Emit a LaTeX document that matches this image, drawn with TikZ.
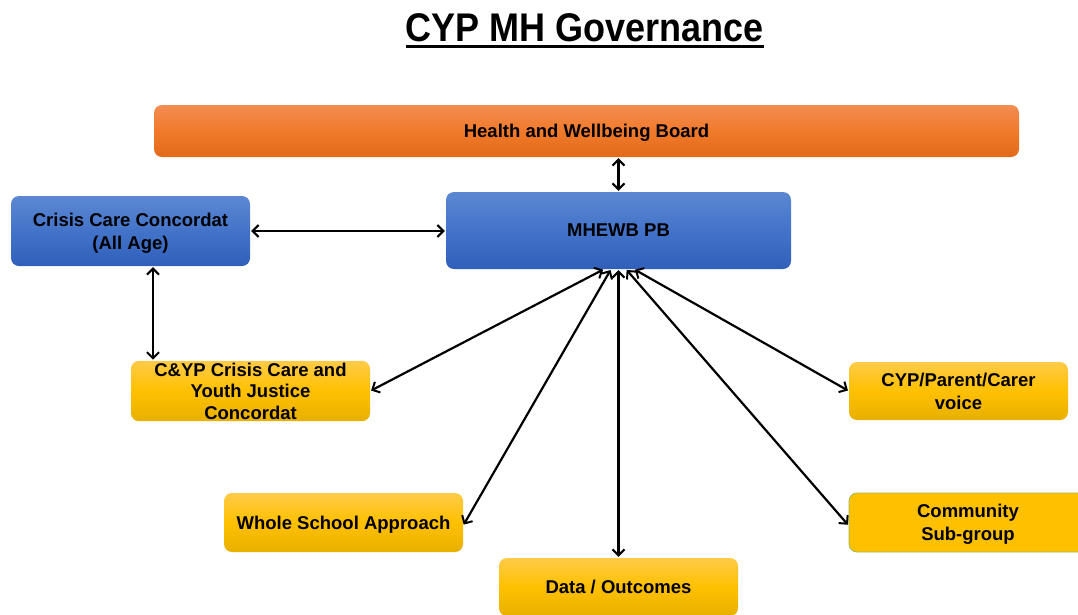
\documentclass[tikz,border=0pt]{standalone}
\usepackage{fontspec}
\setmainfont{Liberation Sans}
\newfontfamily\titlefont[FakeStretch=0.9]{Liberation Sans}
\usetikzlibrary{arrows.meta}

\definecolor{orgTop}{HTML}{F38D52}
\definecolor{orgMid}{HTML}{F07A2B}
\definecolor{orgBot}{HTML}{E4691A}
\definecolor{bluTop}{HTML}{5C88D2}
\definecolor{bluMid}{HTML}{4373C9}
\definecolor{bluBot}{HTML}{2F5FB9}
\definecolor{ylwTop}{HTML}{FFCB48}
\definecolor{ylwMid}{HTML}{FFC000}
\definecolor{ylwBot}{HTML}{E7B000}
\definecolor{ylwFlat}{HTML}{FFC000}
\definecolor{grnEdge}{HTML}{9BBB59}

\tikzset{
  box/.style={rounded corners=8pt, inner sep=2pt, align=center, text depth=0pt,
    font=\bfseries\fontsize{18.5}{23}\selectfont},
  orangebox/.style={box, top color=orgTop, bottom color=orgBot, middle color=orgMid},
  bluebox/.style={box, top color=bluTop, bottom color=bluBot, middle color=bluMid},
  yellowbox/.style={box, top color=ylwTop, bottom color=ylwBot, middle color=ylwMid},
  flatbox/.style={box, fill=ylwFlat, draw=grnEdge, line width=0.8pt},
  barb/.tip={Straight Barb[length=6pt,width=12pt,line width=2pt]},
  link/.style={line width=2.2pt, shorten >=1pt, shorten <=1pt, barb-barb}
}

\begin{document}
\begin{tikzpicture}[x=1pt,y=-1pt]
\useasboundingbox (0,0) rectangle (1078,614);
\clip (0,0) rectangle (1078,614);
\fill[white] (0,0) rectangle (1078,614);

% title
\node[inner sep=0pt, anchor=base, font=\titlefont\bfseries\fontsize{40}{44}\selectfont]
  (title) at (585,41) {CYP MH Governance};
\draw[line width=3pt] ([yshift=-5pt]title.base west) -- ([yshift=-5pt]title.base east);

% boxes
\node[orangebox, minimum width=865pt, minimum height=52pt] (hwb) at (586.5,131) {Health and Wellbeing Board};
\node[bluebox, minimum width=345pt, minimum height=77pt] (mh) at (618.5,230.5) {MHEWB PB};
\node[bluebox, minimum width=239pt, minimum height=70pt] (ccc) at (130.5,231) {Crisis Care Concordat\\(All Age)};
\node[yellowbox, minimum width=239pt, minimum height=58pt] (cyj) at (250.5,391) {C\&YP Crisis Care and\\[-1.5pt]Youth Justice\\[-1.5pt]Concordat};
\node[yellowbox, minimum width=219pt, minimum height=58pt] (cpv) at (958.5,391) {CYP/Parent/Carer\\voice};
\node[flatbox, minimum width=238pt, minimum height=59pt] (com) at (968,522.5) {Community\\Sub-group};
\node[yellowbox, minimum width=239pt, minimum height=59pt] (wsa) at (343.5,522.5) {Whole School Approach};
\node[yellowbox, minimum width=239pt, minimum height=58pt] (dat) at (618.5,587) {Data / Outcomes};

% connectors
\draw[link] (mh.north |- hwb.south) -- (mh.north);
\draw[link] (ccc.east) -- (ccc.east -| mh.west);
\draw[link] ([xshift=22.5pt]ccc.south) -- ([xshift=22.5pt]ccc.south |- cyj.north);
\draw[link] ([xshift=-14.5pt]mh.south) -- (cyj.east);
\draw[link] ([xshift=-7.5pt]mh.south) -- ([yshift=-3pt]wsa.east);
\draw[link] (mh.south) -- (dat.north);
\draw[link] ([xshift=7.5pt]mh.south) -- ([yshift=-3pt]com.west);
\draw[link] ([xshift=15.5pt]mh.south) -- (cpv.west);
\end{tikzpicture}
\end{document}
